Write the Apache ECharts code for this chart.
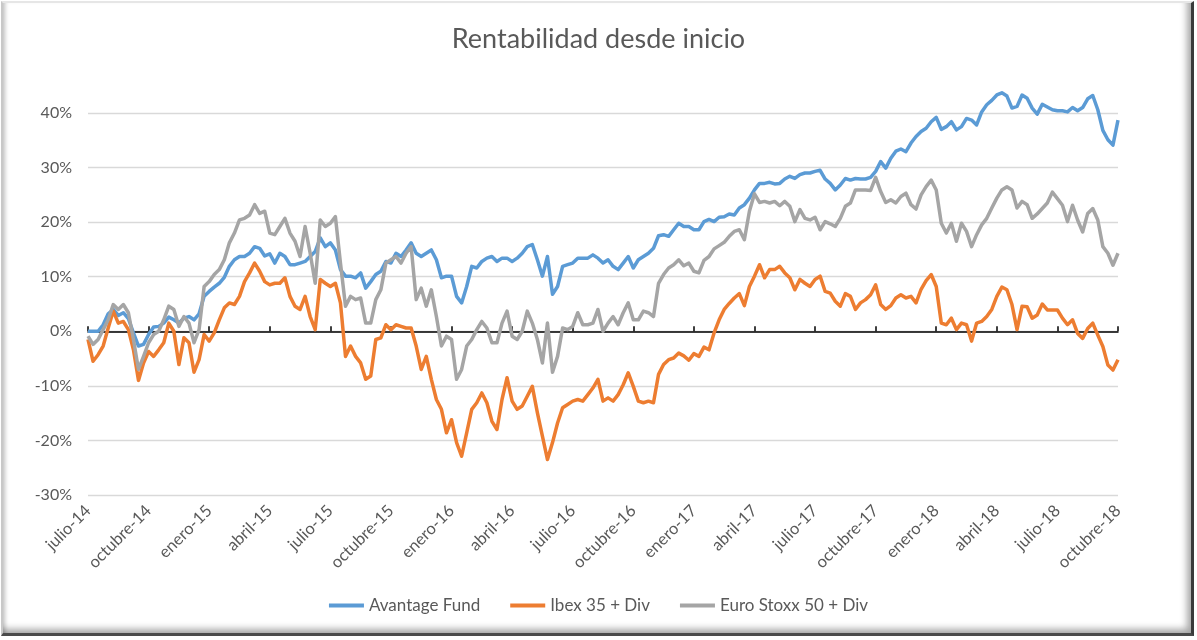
<!DOCTYPE html>
<html>
<head>
<meta charset="utf-8">
<script src="https://cdn.jsdelivr.net/npm/echarts@6/dist/echarts.min.js"></script>
<style>
  html, body { margin: 0; padding: 0; background: #ffffff; }
  #frame {
    position: absolute; left: 1px; top: 1px; width: 1193px; height: 635px;
    border-top: 2px solid #e6e6e6; border-left: 2px solid #c8c8c8;
    border-right: 3px solid #3a3a3a; border-bottom: 3px solid #4a4a4a;
    box-sizing: border-box;
    box-shadow: inset -9px -9px 7px -5px rgba(0,0,0,0.35), inset 5px 0 4px -3px rgba(0,0,0,0.25);
  }
  #chart { position: absolute; left: 0; top: 0; width: 1197px; height: 640px; }
</style>
</head>
<body>
<div id="frame"></div>
<div id="chart"></div>
<script>
// Quarter tick labels (x axis) - one every 3 months starting July 2014
const tickLabels = ['julio-14','octubre-14','enero-15','abril-15','julio-15','octubre-15','enero-16','abril-16','julio-16','octubre-16','enero-17','abril-17','julio-17','octubre-17','enero-18','abril-18','julio-18','octubre-18'];
// Weekly samples (4 per month) from July 2014 to October 2018, values in %
const samplesPerMonth = 4;
const avantage = [
0,0,0,1.2,3.2,4.0,2.9,3.4,2.3,-0.3,-2.7,-2.4,-0.6,0.8,0.9,1.5,2.6,2.1,1.5,2.4,
2.7,2.1,3.2,6.4,7.3,8.1,8.8,9.9,11.9,13.1,13.7,13.7,14.3,15.5,15.2,13.8,14.2,12.5,14.3,13.7,
12.2,12.2,12.5,12.8,13.7,14.6,17.1,15.5,16.2,14.9,11.3,10.1,10.1,9.8,10.7,7.9,9.1,10.4,11.0,12.8,
12.5,14.3,13.7,14.9,16.2,14.3,13.7,14.3,14.9,13.1,9.8,10.1,10.1,6.4,5.2,8.2,11.9,11.6,12.8,13.4,
13.7,12.8,13.4,13.4,12.8,13.4,14.3,15.5,15.9,13.1,10.1,13.7,6.8,8.2,11.9,12.2,12.5,13.4,13.4,13.4,
14.0,13.4,12.5,13.1,11.9,11.3,12.5,13.7,11.6,13.1,13.7,14.3,15.2,17.5,17.7,17.4,18.6,19.8,19.2,19.2,
18.6,18.6,20.1,20.5,20.1,20.9,21.0,21.5,21.3,22.6,23.2,24.4,25.9,27.1,27.1,27.3,27.0,27.1,27.9,28.4,
28.0,28.7,29.0,29.0,29.3,29.5,27.9,27.1,25.9,26.8,28.0,27.7,28.0,27.9,27.9,28.2,29.3,31.1,29.9,31.7,
33.0,33.4,32.9,34.5,35.7,36.6,37.2,38.4,39.2,37.0,37.5,38.4,36.9,37.5,39.0,38.7,37.8,40.2,41.5,42.3,
43.3,43.7,43.1,40.9,41.2,43.3,42.7,40.9,39.8,41.6,41.1,40.6,40.4,40.4,40.2,41.0,40.4,41.0,42.6,43.2,
40.6,36.8,35.1,34.1,38.7
];
const ibex = [
-1.5,-5.5,-4.3,-2.7,0.6,3.7,1.5,1.8,0.3,-3.4,-9.0,-5.8,-3.7,-4.6,-3.4,-2.1,1.5,0,-6.1,-1.2,
-2.1,-7.5,-5.2,-0.6,-1.8,-0.3,2.1,4.3,5.2,4.9,6.4,9.1,10.7,12.5,11.0,9.1,8.5,8.8,8.8,9.8,
6.4,4.6,4.0,6.4,2.7,0.3,9.5,8.8,8.2,8.8,5.2,-4.6,-2.7,-4.6,-5.8,-8.8,-8.2,-1.5,-1.2,1.2,
0.3,1.2,0.9,0.6,0.6,-2.7,-7.0,-4.6,-8.8,-12.5,-14.3,-18.6,-16.2,-20.4,-22.9,-18.6,-14.3,-13.1,-11.3,-13.1,
-16.5,-18.0,-12.5,-8.5,-12.8,-14.3,-13.7,-11.9,-10.1,-14.9,-19.2,-23.5,-20.4,-16.8,-14.0,-13.4,-12.8,-12.5,-12.8,-11.6,
-10.4,-8.8,-12.8,-12.2,-12.8,-11.6,-9.8,-7.6,-10.1,-12.8,-13.1,-12.8,-13.1,-7.9,-6.1,-5.2,-4.9,-4.0,-4.5,-5.3,
-4.1,-4.6,-2.9,-3.4,-0.3,2.1,4.0,5.1,6.1,6.9,4.7,8.2,10.1,12.2,9.8,11.3,11.3,11.9,10.7,9.8,
7.6,9.5,8.8,8.2,9.5,10.1,7.3,7.0,5.5,4.6,6.9,6.4,4.0,5.2,5.8,6.7,8.5,4.9,4.0,4.7,
6.1,6.7,6.1,6.4,5.2,7.7,9.3,10.4,8.2,1.5,1.2,2.4,0.3,1.5,1.2,-1.8,1.5,1.8,2.7,4.0,
6.4,8.1,7.6,4.9,0.3,4.6,4.5,2.4,3.0,5.0,3.9,3.9,3.9,2.4,1.2,2.1,-0.4,-1.3,0.5,1.5,
-0.7,-2.8,-6.2,-7.1,-5.2
];
const eurostoxx = [
-0.9,-2.4,-1.5,0.3,2.1,4.9,4.0,4.9,3.4,-1.5,-7.0,-4.6,-2.1,-0.6,0,2.1,4.6,4.0,0.9,2.7,
1.5,-2.1,0.3,8.2,9.1,10.4,11.3,13.1,16.2,18.0,20.4,20.7,21.3,23.2,21.6,22.0,18.0,17.7,19.2,20.7,
18.0,16.5,13.7,19.2,14.3,8.8,20.4,19.2,19.8,21.0,12.5,4.6,6.4,5.8,6.1,1.5,1.5,5.8,7.6,12.5,
13.1,13.7,12.5,14.3,15.5,5.8,7.9,4.6,7.6,2.7,-2.7,-0.9,-1.5,-8.8,-7.0,-2.7,-1.5,0.3,1.8,0.6,
-2.1,-2.1,1.5,3.7,-0.9,-1.5,0,3.7,1.5,-1.5,-5.8,1.5,-7.5,-4.6,0.6,0.3,0.9,3.4,1.2,1.2,
1.5,4.0,0,1.5,2.7,1.2,3.4,5.2,2.1,2.1,3.7,3.4,2.7,8.8,10.4,11.6,12.2,13.1,12.0,12.5,
11.0,10.7,13.0,13.7,15.1,15.7,16.3,17.4,18.3,18.6,16.8,22.0,25.2,23.6,23.8,23.5,23.8,23.0,23.8,22.9,
20.1,22.3,20.7,20.4,20.9,18.6,20.1,19.7,19.2,20.7,22.9,23.5,25.9,25.9,25.9,25.8,28.2,25.6,23.6,24.1,
23.5,24.7,25.3,23.2,22.4,25.0,26.5,27.7,25.9,19.8,18.0,19.8,16.5,19.8,18.3,15.5,17.7,19.5,20.7,22.6,
24.4,25.9,26.5,25.9,22.6,23.8,23.2,20.7,21.5,22.5,23.5,25.5,24.3,23.1,20.1,23.1,20.4,18.2,21.6,22.5,
20.4,15.5,14.3,12.1,14.3
];
const seriesNames = ['Avantage Fund', 'Ibex 35 + Div', 'Euro Stoxx 50 + Div'];
const seriesColors = ['#5B9BD5', '#ED7D31', '#A5A5A5'];

const toPoints = arr => arr.map((v, i) => [i / samplesPerMonth, v]);
const chart = echarts.init(document.getElementById('chart'), null, { renderer: 'canvas' });
const fontFamily = 'Lato, "Open Sans", sans-serif';

chart.setOption({
  backgroundColor: 'transparent',
  animation: false,
  title: {
    text: 'Rentabilidad desde inicio',
    left: 'center',
    top: 21,
    textStyle: { fontFamily, fontSize: 27, fontWeight: 'normal', color: '#595959' }
  },
  legend: {
    bottom: 21,
    left: 'center',
    icon: 'rect',
    itemWidth: 35,
    itemHeight: 4,
    itemGap: 30,
    textStyle: { fontFamily, fontSize: 17, color: '#595959' },
    data: seriesNames
  },
  grid: { left: 88, right: 79, top: 85.7, bottom: 145, containLabel: false },
  xAxis: [
    {
      type: 'value', min: 0, max: (tickLabels.length - 1) * 3, interval: 3,
      position: 'bottom',
      axisLine: { show: false, onZero: false },
      axisTick: { show: false },
      splitLine: { show: false },
      axisLabel: {
        rotate: 45, margin: 13, fontFamily, fontSize: 16.5, color: '#595959',
        formatter: v => tickLabels[Math.round(v / 3)] || ''
      }
    },
    {
      type: 'value', min: 0, max: (tickLabels.length - 1) * 3, interval: 3,
      position: 'bottom',
      axisLine: { show: true, onZero: true, lineStyle: { color: '#000000', width: 1.5 } },
      axisTick: { show: true, inside: true, length: 5, lineStyle: { color: '#000000', width: 1.5 } },
      axisLabel: { show: false },
      splitLine: { show: false }
    }
  ],
  yAxis: {
    type: 'value', min: -30, max: 45, interval: 10,
    axisLine: { show: false },
    axisTick: { show: false },
    axisLabel: {
      showMaxLabel: false, margin: 16, fontFamily, fontSize: 16, color: '#595959',
      formatter: v => v + '%'
    },
    splitLine: {
      show: true, showMaxLine: false,
      lineStyle: { color: ['#d9d9d9','#d9d9d9','#d9d9d9','#d9d9d9','#d9d9d9','#d9d9d9','#d9d9d9','#d9d9d9','rgba(0,0,0,0)'], width: 1.3 }
    }
  },
  series: [avantage, ibex, eurostoxx].map((arr, k) => ({
    name: seriesNames[k],
    type: 'line',
    xAxisIndex: 0,
    data: toPoints(arr),
    showSymbol: false,
    symbol: 'none',
    lineStyle: { color: seriesColors[k], width: 3.5, join: 'round' },
    itemStyle: { color: seriesColors[k] }
  }))
});
</script>
</body>
</html>
